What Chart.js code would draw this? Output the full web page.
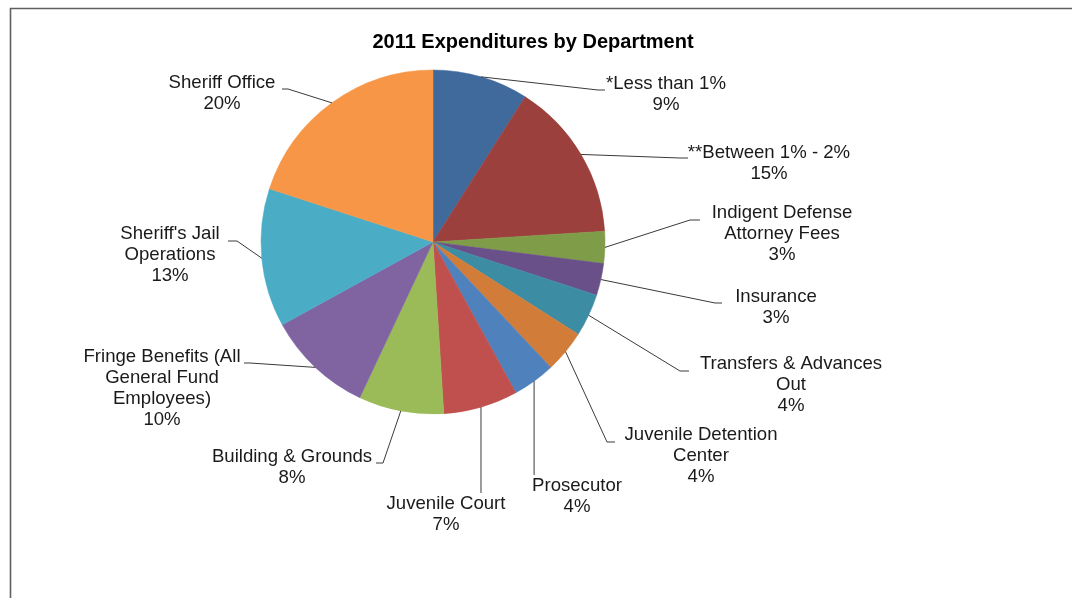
<!DOCTYPE html>
<html>
<head>
<meta charset="utf-8">
<title>2011 Expenditures by Department</title>
<script src="https://cdn.jsdelivr.net/npm/chart.js@4.4.1/dist/chart.umd.min.js"></script>
<style>
    html, body { margin: 0; padding: 0; background: #fff; }
    #wrap { position: relative; width: 1072px; height: 598px; }
</style>
</head>
<body>
<div id="wrap"><canvas id="expenditureChart"></canvas></div>
<script>
// ========================================
// 2011 Expenditures by Department — pie
// ========================================

const chartTitle = '2011 Expenditures by Department';

const departments = [
    ['*Less than 1%'],
    ['**Between 1% - 2%'],
    ['Indigent Defense', 'Attorney Fees'],
    ['Insurance'],
    ['Transfers & Advances', 'Out'],
    ['Juvenile Detention', 'Center'],
    ['Prosecutor'],
    ['Juvenile Court'],
    ['Building & Grounds'],
    ['Fringe Benefits (All', 'General Fund', 'Employees)'],
    ["Sheriff's Jail", 'Operations'],
    ['Sheriff Office']
];

const shares = [9, 15, 3, 3, 4, 4, 4, 7, 8, 10, 13, 20];

const sliceColors = [
    '#40699c', '#9c403d', '#7f9c48', '#6a5089', '#3c8da3', '#d17c39',
    '#4f81bd', '#c0504d', '#9bbb59', '#8064a2', '#4bacc6', '#f79646'
];

// label block placement: text centre x, first line y, leader elbow and end
// (drop: leader runs straight down from the slice edge to the given y)
const labelSpots = [
    { x: 666, y: 84,  elbow: [598, 90],  end: [605, 90] },
    { x: 769, y: 153, elbow: [680, 158], end: [688, 158] },
    { x: 782, y: 213, elbow: [690, 220], end: [700, 220] },
    { x: 776, y: 297, elbow: [715, 303], end: [722, 303] },
    { x: 791, y: 364, elbow: [680, 371], end: [689, 371] },
    { x: 701, y: 435, elbow: [607, 442], end: [615, 442] },
    { x: 577, y: 486, drop: 475 },
    { x: 446, y: 504, drop: 493 },
    { x: 292, y: 457, elbow: [383, 463], end: [376, 463] },
    { x: 162, y: 357, elbow: [250, 363], end: [244, 363] },
    { x: 170, y: 234, elbow: [237, 241], end: [228, 241] },
    { x: 222, y: 83,  elbow: [288, 89],  end: [282, 89] }
];

const LABEL_FONT = '18.6px "Liberation Sans", Arial, sans-serif';
const LINE_STEP = 21;

// frame, title, leader lines and category labels
const annotatePlugin = {
    id: 'annotate',
    beforeDraw(chart) {
        const ctx = chart.ctx;
        ctx.save();
        ctx.strokeStyle = '#5f5f5f';
        ctx.lineWidth = 1.6;
        ctx.beginPath();
        ctx.moveTo(10.5, chart.height + 2);
        ctx.lineTo(10.5, 8.5);
        ctx.lineTo(chart.width + 2, 8.5);
        ctx.stroke();
        ctx.restore();
    },
    afterDraw(chart) {
        const ctx = chart.ctx;
        const arcs = chart.getDatasetMeta(0).data;
        ctx.save();

        ctx.fillStyle = '#000';
        ctx.font = 'bold 20px "Liberation Sans", Arial, sans-serif';
        ctx.textAlign = 'center';
        ctx.textBaseline = 'middle';
        ctx.fillText(chartTitle, 533, 42);

        arcs.forEach((arc, i) => {
            const spot = labelSpots[i];
            const mid = (arc.startAngle + arc.endAngle) / 2;
            const sx = arc.x + Math.cos(mid) * arc.outerRadius;
            const sy = arc.y + Math.sin(mid) * arc.outerRadius;

            ctx.strokeStyle = '#3a3a3a';
            ctx.lineWidth = 1;
            ctx.beginPath();
            ctx.moveTo(sx, sy);
            if (spot.drop) {
                ctx.lineTo(sx, spot.drop);
            } else {
                ctx.lineTo(spot.elbow[0], spot.elbow[1]);
                ctx.lineTo(spot.end[0], spot.end[1]);
            }
            ctx.stroke();

            const lines = departments[i].concat([shares[i] + '%']);
            ctx.fillStyle = '#1a1a1a';
            ctx.font = LABEL_FONT;
            lines.forEach((txt, k) => {
                ctx.fillText(txt, spot.x, spot.y + k * LINE_STEP);
            });
        });
        ctx.restore();
    }
};

new Chart(document.getElementById('expenditureChart'), {
    type: 'pie',
    data: {
        labels: departments.map(d => d.join(' ')),
        datasets: [{
            data: shares,
            backgroundColor: sliceColors,
            borderColor: sliceColors,
            borderWidth: 0.5,
            radius: 172,
            hoverOffset: 0
        }]
    },
    options: {
        responsive: true,
        maintainAspectRatio: false,
        animation: false,
        events: [],
        layout: {
            padding: { left: 261, right: 467, top: 70, bottom: 184 }
        },
        plugins: {
            legend: { display: false },
            tooltip: { enabled: false },
            title: { display: false }
        }
    },
    plugins: [annotatePlugin]
});
</script>
</body>
</html>
